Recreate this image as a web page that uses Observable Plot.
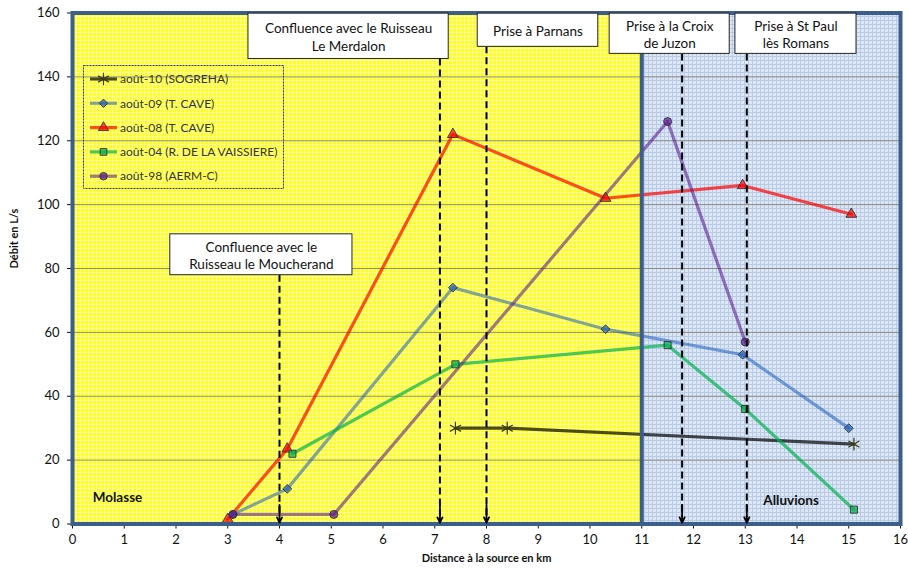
<!DOCTYPE html>
<html><head><meta charset="utf-8">
<script src="https://cdn.jsdelivr.net/npm/d3@7"></script>
<script src="https://cdn.jsdelivr.net/npm/@observablehq/plot@0.6"></script>
<style>body{margin:0;background:#fff;font-family:Lato,sans-serif}</style>
</head><body><div id="chart"></div>
<script>
// ---- data ----
const seriesNames = ["août-10 (SOGREHA)", "août-09 (T. CAVE)", "août-08 (T. CAVE)", "août-04 (R. DE LA VAISSIERE)", "août-98 (AERM-C)"];
const seriesColors = ["#000000", "#1f5fbf", "#ff0000", "#00b050", "#5a1890"];
const seriesOpacity = [0.7, 0.56, 0.7, 0.7, 0.58];
const seriesSymbols = ["asterisk", "diamond2", "triangle", "square", "circle"];

const aout10X = [7.4, 8.4, 15.1];
const aout10Y = [30, 30, 25];
const aout09X = [3.1, 4.15, 7.35, 10.3, 12.95, 15.0];
const aout09Y = [3, 11, 74, 61, 53, 30];
const aout08X = [3.0, 4.15, 7.35, 10.3, 12.95, 15.05];
const aout08Y = [1.5, 23.5, 122, 102, 106, 97];
const aout04X = [4.25, 7.4, 11.5, 13.0, 15.1];
const aout04Y = [22, 50, 56, 36, 4.5];
const aout98X = [3.1, 5.05, 11.5, 13.0];
const aout98Y = [3, 3, 126, 57];

const xTicks = d3.range(0, 17, 1);
const yTicks = d3.range(0, 161, 20);

const annotLabels = ["Confluence avec le\nRuisseau le Moucherand", "Confluence avec le Ruisseau\nLe Merdalon", "Prise à Parnans", "Prise à la Croix\nde Juzon", "Prise à St Paul\nlès Romans"];
const annotX = [4.0, 7.1, 8.0, 11.78, 13.03];

const zoneNames = ["Molasse", "Alluvions"];
const zoneStart = [0, 11];
const zoneEnd = [11, 16];

// ---- layout (positions of annotation boxes, in data units) ----
const boxLayout = [
  {x1: 1.89, x2: 5.41, y1: 77.9, y2: 90.7},
  {x1: 3.40, x2: 7.27, y1: 145.6, y2: 159.8},
  {x1: 7.83, x2: 10.16, y1: 149.4, y2: 159.8},
  {x1: 10.38, x2: 12.70, y1: 147.2, y2: 159.8},
  {x1: 12.81, x2: 15.15, y1: 147.2, y2: 159.8}
];
const zoneLabelPos = [{x: 0.39, y: 8.2}, {x: 13.35, y: 7.2}];

const rows = (name, xs, ys) => xs.map((x, i) => ({series: name, x, y: ys[i]}));
const data = [
  ...rows(seriesNames[0], aout10X, aout10Y),
  ...rows(seriesNames[1], aout09X, aout09Y),
  ...rows(seriesNames[2], aout08X, aout08Y),
  ...rows(seriesNames[3], aout04X, aout04Y),
  ...rows(seriesNames[4], aout98X, aout98Y)
];
const annots = annotLabels.map((label, i) => ({label, x: annotX[i], ...boxLayout[i],
  cx: (boxLayout[i].x1 + boxLayout[i].x2) / 2, cy: (boxLayout[i].y1 + boxLayout[i].y2) / 2}));
const zones = zoneNames.map((name, i) => ({name, x1: zoneStart[i], x2: zoneEnd[i], lx: zoneLabelPos[i].x, ly: zoneLabelPos[i].y}));

const frameColor = "#3b5e8c";

const lineMarks = seriesNames.map((name, i) =>
  Plot.line(data.filter(d => d.series === name), {x: "x", y: "y", stroke: seriesColors[i], strokeWidth: 3.2, strokeOpacity: seriesOpacity[i]}));

const svg = Plot.plot({
  width: 908, height: 571,
  marginLeft: 72, marginRight: 8, marginTop: 12.5, marginBottom: 47.5,
  style: {fontFamily: "Lato, sans-serif", fontSize: "13px", color: "#111", background: "#fff"},
  x: {domain: [0, 16]},
  y: {domain: [0, 160]},
  color: {domain: seriesNames, range: seriesColors},
  symbol: {domain: seriesNames, range: seriesSymbols},
  marks: [
    Plot.rect([zones[0]], {x1: "x1", x2: "x2", y1: 0, y2: 160, fill: "url(#patY)"}),
    Plot.rect([zones[1]], {x1: "x1", x2: "x2", y1: 0, y2: 160, fill: "url(#patB)"}),
    Plot.ruleY(yTicks.filter(d => d > 0 && d < 160), {stroke: "#8c8c8c", strokeWidth: 1}),
    Plot.axisX({ticks: xTicks, tickSize: 5, tickPadding: 6, label: null, fontSize: 13}),
    Plot.axisY({ticks: yTicks, tickSize: 5, tickPadding: 8, label: null, fontSize: 13}),
    ...lineMarks,
    Plot.dot(data.filter(d => d.series !== seriesNames[0]), {x: "x", y: "y", symbol: "series", fill: "series", fillOpacity: 0.7, stroke: "#333", strokeWidth: 0.9, r: 4}),
    Plot.dot(data.filter(d => d.series === seriesNames[0]), {x: "x", y: "y", symbol: "asterisk", stroke: "#3a3a10", strokeWidth: 1.2, r: 6}),
    Plot.ruleX([zoneEnd[0]], {stroke: frameColor, strokeWidth: 4}),
    Plot.frame({stroke: frameColor, strokeWidth: 4}),
    Plot.ruleX(annots, {x: "x", y1: "y1", y2: 2, stroke: "#000", strokeWidth: 2, strokeDasharray: "7,4"}),
    Plot.arrow(annots, {x1: "x", x2: "x", y1: 6, y2: 0.4, stroke: "#000", strokeWidth: 1.8, headLength: 11, headAngle: 50}),
    Plot.rect(annots, {x1: "x1", x2: "x2", y1: "y1", y2: "y2", fill: "#fff", stroke: "#222", strokeWidth: 1}),
    Plot.text(annots, {x: "cx", y: "cy", text: "label", fontSize: 13.5, lineHeight: 1.3, fill: "#111"}),
    Plot.text(zones, {x: "lx", y: "ly", text: "name", textAnchor: "start", fontWeight: "bold", fontSize: 13.5, fill: "#111"}),
    Plot.text(["Débit en L/s"], {frameAnchor: "left", dx: -58, rotate: -90, fontWeight: "bold", fontSize: 11, fill: "#111"}),
    Plot.text(["Distance à la source en km"], {frameAnchor: "bottom", dy: 38, fontWeight: "bold", fontSize: 11, fill: "#111"})
  ]
});

const s = d3.select(svg);
s.insert("defs", ":first-child").html(`
  <pattern id="patY" width="4" height="4" patternUnits="userSpaceOnUse">
    <rect width="4" height="4" fill="#ffff1e"/>
    <path d="M0 0.5H4M0.5 0V4" stroke="#ffffa8" stroke-width="1"/>
  </pattern>
  <pattern id="patB" width="4" height="4" patternUnits="userSpaceOnUse">
    <rect width="4" height="4" fill="#dde7f3"/>
    <path d="M0 0.5H4M0.5 0V4" stroke="#b7cbe6" stroke-width="1"/>
  </pattern>`);

// legend inside the plot area
const symMap = {asterisk: d3.symbolAsterisk, diamond2: d3.symbolDiamond2, triangle: d3.symbolTriangle, square: d3.symbolSquare, circle: d3.symbolCircle};
const lg = s.append("g").attr("font-family", "Lato, sans-serif").attr("font-size", 12).attr("text-anchor", "start");
lg.append("rect").attr("x", 83.5).attr("y", 65.5).attr("width", 200).attr("height", 123)
  .attr("fill", "none").attr("stroke", "#333").attr("stroke-dasharray", "2,1");
seriesNames.forEach((name, i) => {
  const cy = 79 + i * 24.3;
  const g = lg.append("g");
  g.append("line").attr("x1", 90).attr("x2", 117).attr("y1", cy).attr("y2", cy)
    .attr("stroke", seriesColors[i]).attr("stroke-opacity", seriesOpacity[i]).attr("stroke-width", 3.2);
  if (i === 0) {
    g.append("path").attr("transform", `translate(103.5,${cy})`)
      .attr("d", d3.symbol(d3.symbolAsterisk, 110)())
      .attr("fill", "none").attr("stroke", "#3a3a10").attr("stroke-width", 1.2);
  } else {
    g.append("path").attr("transform", `translate(103.5,${cy})`)
      .attr("d", d3.symbol(symMap[seriesSymbols[i]], 45)())
      .attr("fill", seriesColors[i]).attr("fill-opacity", 0.7).attr("stroke", "#333").attr("stroke-width", 0.9);
  }
  g.append("text").attr("x", 120).attr("y", cy).attr("dy", "0.35em").attr("text-anchor", "start").attr("fill", "#333").text(name);
});

document.getElementById("chart").appendChild(svg);
</script>
</body></html>
